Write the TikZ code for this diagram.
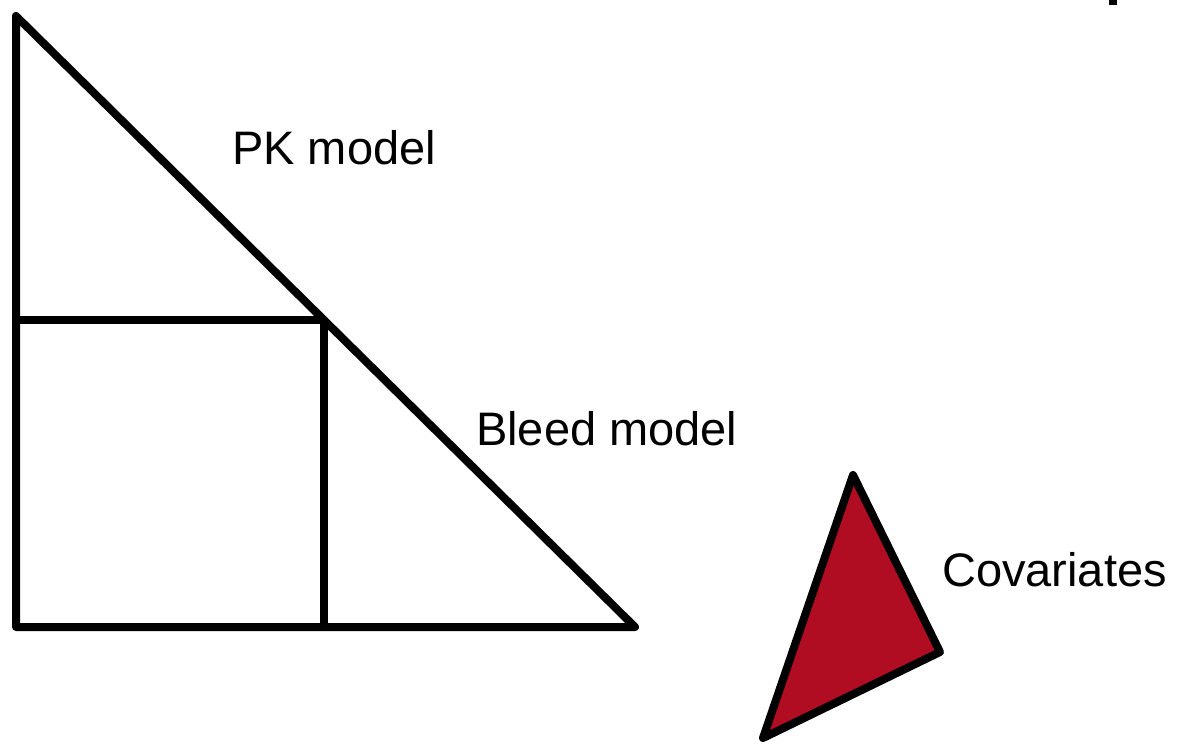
\documentclass[tikz,border=0pt]{standalone}
\usepackage{fontspec}
\setmainfont{Liberation Sans}
\definecolor{cred}{HTML}{B00D23}
\begin{document}
\begin{tikzpicture}[x=1pt,y=-1pt,
  shape line/.style={line width=8pt,line join=round,line cap=round},
  lbl/.style={inner sep=0pt,anchor=west,font=\fontsize{47}{50}\selectfont}]
\useasboundingbox (0,0) rectangle (1178,745);
\coordinate (A) at (16,16);
\coordinate (B) at (16,627);
\coordinate (C) at (635,627);
\coordinate (M) at (324,320);
\coordinate (L) at (16,320);
\coordinate (D) at (324,627);
\draw[shape line] (A) -- (B) -- (C) -- cycle;
\draw[shape line] (L) -- (M) -- (D);
\coordinate (T1) at (853,475);
\coordinate (T2) at (940,652);
\coordinate (T3) at (763,738);
\draw[shape line,fill=cred] (T1) -- (T2) -- (T3) -- cycle;
\fill (1109,0) rectangle (1117,5);
\node[lbl] (pk) at (232,148) {PK model};
\node[lbl] (bleed) at (476,429) {Bleed model};
\node[lbl] (cov) at (942,570) {Covariates};
\end{tikzpicture}
\end{document}
